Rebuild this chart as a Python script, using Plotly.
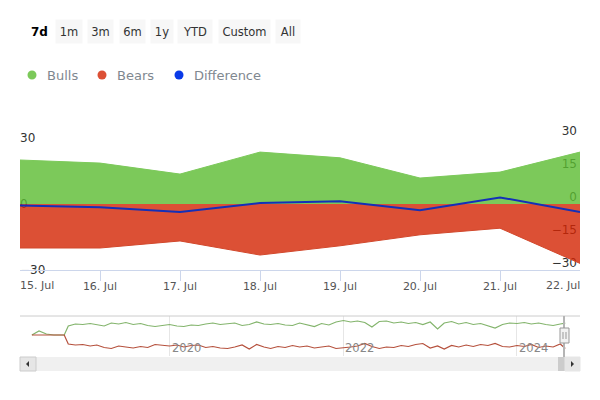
import plotly.graph_objects as go

# main chart, last 7 days
days = ["2024-07-15", "2024-07-16", "2024-07-17", "2024-07-18",
        "2024-07-19", "2024-07-20", "2024-07-21", "2024-07-22"]
day_labels = ["15. Jul", "16. Jul", "17. Jul", "18. Jul", "19. Jul", "20. Jul", "21. Jul", "22. Jul"]
bulls = [20, 18.6, 13.6, 23.6, 21, 11.8, 14.5, 23.6]
bears = [-20, -20, -16.8, -23.2, -19, -14, -11, -27]
difference = [-0.7, -1.5, -3.6, 0.4, 1.3, -2.8, 3, -3.6]

# navigator, about one reading per month
nav_dates = ["2018-06-01", "2018-07-01", "2018-08-01", "2018-09-01", "2018-10-15",
             "2018-11-01", "2018-12-01",
             "2019-01-01", "2019-02-01", "2019-03-01", "2019-04-01", "2019-05-01", "2019-06-01",
             "2019-07-01", "2019-08-01", "2019-09-01", "2019-10-01", "2019-11-01", "2019-12-01",
             "2020-01-01", "2020-02-01", "2020-03-01", "2020-04-01", "2020-05-01", "2020-06-01",
             "2020-07-01", "2020-08-01", "2020-09-01", "2020-10-01", "2020-11-01", "2020-12-01",
             "2021-01-01", "2021-02-01", "2021-03-01", "2021-04-01", "2021-05-01", "2021-06-01",
             "2021-07-01", "2021-08-01", "2021-09-01", "2021-10-01", "2021-11-01", "2021-12-01",
             "2022-01-01", "2022-02-01", "2022-03-01", "2022-04-01", "2022-05-01", "2022-06-01",
             "2022-07-01", "2022-08-01", "2022-09-01", "2022-10-01", "2022-11-01", "2022-12-01",
             "2023-01-01", "2023-02-01", "2023-03-01", "2023-04-01", "2023-05-01", "2023-06-01",
             "2023-07-01", "2023-08-01", "2023-09-01", "2023-10-01", "2023-11-01", "2023-12-01",
             "2024-01-01", "2024-02-01", "2024-03-01", "2024-04-01", "2024-05-01", "2024-06-01",
             "2024-07-01", "2024-07-22"]
nav_bulls = [0, 8, 2, 0, 0,
             18, 22,
             21, 23, 20, 18, 24, 22, 25, 21, 23, 19, 17, 19,
             21, 18, 17, 20, 19, 22, 24, 21, 23, 24, 19, 21,
             26, 22, 21, 23, 20, 19, 24, 21, 17, 23, 20, 26,
             29, 26, 28, 25, 16, 27, 28, 24, 26, 23, 25, 21,
             26, 12, 24, 27, 22, 25, 21, 23, 19, 14, 21, 24,
             23, 25, 22, 24, 21, 19, 22, 23.6]
nav_bears = [0, 0, 0, 0, 0,
             -18, -20,
             -19, -22, -20, -25, -27, -22, -24, -26, -23, -25, -19, -21,
             -22, -20, -24, -21, -20, -25, -23, -26, -27, -24, -20, -28,
             -19, -24, -27, -23, -25, -21, -24, -22, -26, -24, -22, -27,
             -26, -24, -22, -17, -23, -27, -24, -25, -21, -23, -19, -17,
             -26, -22, -28, -21, -24, -20, -23, -19, -21, -17, -23, -24,
             -21, -23, -19, -25, -22, -24, -18, -27]

buttons = ["1m", "3m", "6m", "1y", "YTD", "Custom", "All"]
button_centers = [68.5, 100, 132, 161.5, 195.5, 244, 287.5]
button_widths = [24, 23, 23, 20, 32, 49, 22]
legend_names = ["Bulls", "Bears", "Difference"]
legend_colors = ["#7cc95a", "#dc5035", "#0a3ae8"]
legend_dots = [32, 102, 179]
nav_years = ["2020-01-01", "2022-01-01", "2024-01-01"]

W, H = 600, 400


def px_x(v):
    return v / W


def px_y(v):
    return 1 - v / H


def paper_text(text, x, y, size, color, anchor="center", **kw):
    return dict(text=text, x=px_x(x), y=px_y(y), xref="paper", yref="paper", xanchor=anchor,
                yanchor="middle", showarrow=False, font=dict(size=size, color=color), **kw)


def paper_rect(x0, x1, y0, y1, fill, line=None):
    return dict(type="rect", xref="paper", yref="paper", x0=px_x(x0), x1=px_x(x1),
                y0=px_y(y0), y1=px_y(y1), fillcolor=fill,
                line=dict(color=line, width=1) if line else dict(width=0))


def paper_line(x0, x1, y0, y1, color, width=1):
    return dict(type="line", xref="paper", yref="paper", x0=px_x(x0), x1=px_x(x1),
                y0=px_y(y0), y1=px_y(y1), line=dict(color=color, width=width))


fig = go.Figure()

# invisible copy so the left axis gets drawn under the areas
fig.add_trace(go.Scatter(x=days, y=difference, mode="lines", line=dict(width=0),
                         hoverinfo="skip", xaxis="x", yaxis="y"))

fig.add_trace(go.Scatter(x=days, y=bulls, name="Bulls", fill="tozeroy", mode="lines",
                         line=dict(color="#7cc95a", width=1), fillcolor="rgba(91,187,49,0.8)",
                         xaxis="x", yaxis="y3"))
fig.add_trace(go.Scatter(x=days, y=bears, name="Bears", fill="tozeroy", mode="lines",
                         line=dict(color="#d2482c", width=1), fillcolor="rgba(211,36,3,0.8)",
                         xaxis="x", yaxis="y3"))
fig.add_trace(go.Scatter(x=days, y=difference, name="Difference", mode="lines",
                         line=dict(color="#1430b8", width=2), xaxis="x", yaxis="y3"))

fig.add_trace(go.Scatter(x=nav_dates, y=nav_bulls, mode="lines",
                         line=dict(color="#83b46c", width=1.2), xaxis="x2", yaxis="y2"))
fig.add_trace(go.Scatter(x=nav_dates, y=nav_bears, mode="lines",
                         line=dict(color="#b5503c", width=1.2), xaxis="x2", yaxis="y2"))

annotations = [paper_text("<b>7d</b>", 39, 32, 12, "#000000")]
for label, cx, bw in zip(buttons, button_centers, button_widths):
    annotations.append(paper_text(label, cx, 32, 11.5, "#333333", width=bw, height=21,
                                  bgcolor="#f7f7f7"))

shapes = []
for name, col, cx in zip(legend_names, legend_colors, legend_dots):
    annotations.append(paper_text(name, cx + 13, 75, 13, "#7f8890", anchor="left"))
    shapes.append(dict(type="circle", xref="paper", yref="paper",
                       x0=px_x(cx - 4.5), x1=px_x(cx + 4.5), y0=px_y(75 - 4.5), y1=px_y(75 + 4.5),
                       fillcolor=col, line_width=0))

# first and last day labels are pushed inside the plot
annotations.append(dict(text=day_labels[0], x=days[0], y=px_y(285), xref="x", yref="paper",
                        xanchor="left", yanchor="middle", showarrow=False, xshift=-2,
                        font=dict(size=11, color="#555555")))
annotations.append(dict(text=day_labels[-1], x=days[-1], y=px_y(285), xref="x", yref="paper",
                        xanchor="right", yanchor="middle", showarrow=False, xshift=2,
                        font=dict(size=11, color="#555555")))
for yr in nav_years:
    annotations.append(dict(text=yr[:4], x=yr, y=px_y(348), xref="x2", yref="paper",
                            xanchor="left", yanchor="middle", showarrow=False,
                            font=dict(size=11.5, color="#888888")))

# scrollbar and handle under the navigator
shapes += [
    paper_line(20, 580, 316, 316, "#cccccc"),
    paper_rect(36, 558, 357, 371, "#f0f0f0"),
    paper_rect(20, 36, 357, 371, "#e6e6e6", "#cccccc"),
    paper_rect(558, 565, 357, 371, "#cccccc"),
    paper_rect(565, 580, 357, 371, "#e6e6e6", "#e6e6e6"),
    dict(type="path", xref="paper", yref="paper",
         path=f"M {px_x(29)} {px_y(361)} L {px_x(29)} {px_y(367)} L {px_x(26)} {px_y(364)} Z",
         fillcolor="#333333", line_width=0),
    dict(type="path", xref="paper", yref="paper",
         path=f"M {px_x(571)} {px_y(361)} L {px_x(571)} {px_y(367)} L {px_x(574)} {px_y(364)} Z",
         fillcolor="#333333", line_width=0),
    paper_line(564, 564, 316, 357, "#b5b5b5", 2),
    paper_rect(560, 569, 328, 343, "#f2f2f2", "#999999"),
    paper_line(563, 563, 332, 339, "#999999"),
    paper_line(566, 566, 332, 339, "#999999"),
]

# y axes run past +-30 so the inside labels at the ends are not dropped
y_domain = [px_y(290), px_y(110)]
y_range = [-39.09, 42.73]

fig.update_layout(
    width=W, height=H, margin=dict(l=0, r=0, t=0, b=0),
    paper_bgcolor="white", plot_bgcolor="white", showlegend=False,
    font=dict(family="DejaVu Sans", size=11, color="#444444"),
    annotations=annotations, shapes=shapes,
    xaxis=dict(domain=[px_x(20), px_x(580)], anchor="free", position=px_y(270), type="date",
               range=[days[0], days[-1]], tickvals=days,
               ticktext=[""] + day_labels[1:-1] + [""], ticks="outside", ticklen=10,
               ticklabelstandoff=-4, tickcolor="#ccd6eb", showline=True, linecolor="#ccd6eb",
               linewidth=1, showgrid=False, zeroline=False,
               tickfont=dict(size=11, color="#555555")),
    yaxis=dict(domain=y_domain, anchor="x", range=y_range,
               tickvals=[-30, 0, 30], ticklabelposition="inside", layer="below traces",
               ticklabelstandoff=-3, showgrid=False, zeroline=False, showline=False,
               tickfont=dict(size=12, color="#333333")),
    yaxis3=dict(domain=y_domain, anchor="x", overlaying="y", side="right",
                range=y_range, tickvals=[-30, -15, 0, 15, 30], ticklabelposition="inside",
                ticklabelshift=-7, layer="below traces", showgrid=False, zeroline=False,
                showline=False, tickfont=dict(size=12, color="#333333")),
    xaxis2=dict(domain=[px_x(20), px_x(580)], anchor="y2", type="date",
                range=["2018-04-12", "2024-09-22"], tickvals=nav_years,
                showticklabels=False, showgrid=True, gridcolor="#e6e6e6", gridwidth=1,
                zeroline=False, showline=False),
    yaxis2=dict(domain=[px_y(356), px_y(316)], anchor="x2", range=[-42, 38],
                showticklabels=False, showgrid=False, zeroline=False),
)

fig.write_html("out.html", config={"displayModeBar": False},
               post_script="document.body.style.margin='0';")
